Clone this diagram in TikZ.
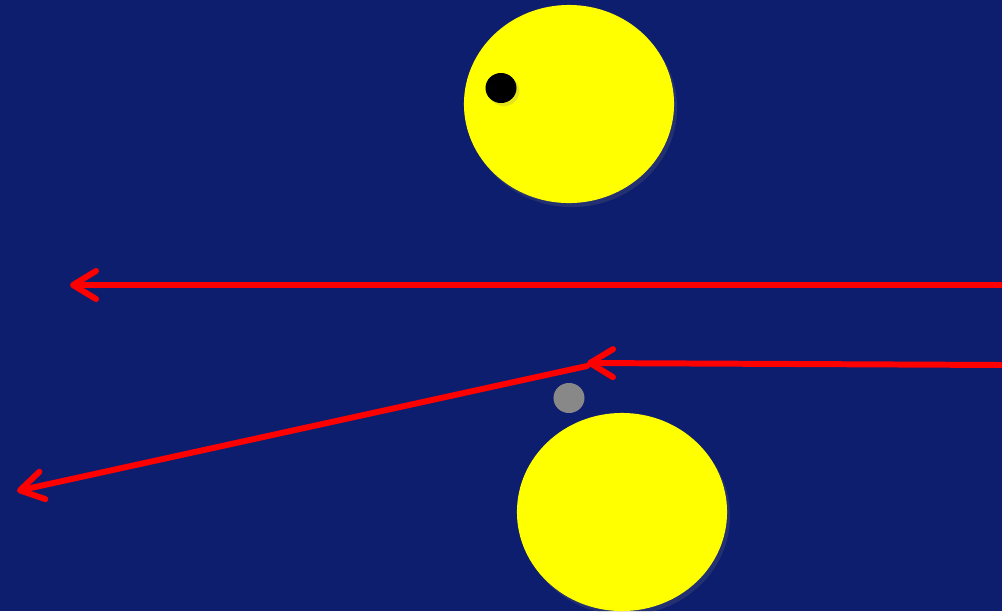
\documentclass[tikz,border=0pt]{standalone}
\usepackage{xcolor}
\usetikzlibrary{positioning, arrows.meta, shapes.geometric, shadows}
\definecolor{nightblue}{RGB}{14,30,110}
\definecolor{sunyellow}{RGB}{255,255,0}
\definecolor{rayred}{RGB}{255,0,0}
\definecolor{moongray}{RGB}{136,136,136}
\begin{document}
\begin{tikzpicture}[
  x=0.01cm, y=-0.01cm,
  body/.style={ellipse, fill=sunyellow, inner sep=0pt, minimum width=2.1cm, minimum height=1.98cm,
    drop shadow={opacity=0.2, shadow xshift=0.3mm, shadow yshift=-0.4mm}},
  spot/.style={ellipse, inner sep=0pt, minimum width=0.31cm, minimum height=0.3cm},
  ray/.style={draw=rayred, line width=1.7pt, line cap=round,
    -{Straight Barb[length=2.3mm, width=2.8mm, round]}}
]

% sky
\fill[nightblue] (0,0) rectangle (1002,611);
\clip (0,0) rectangle (1002,611);

% bodies
\node[body] (upper) at (569,104) {};
\node[body] (lower) at (622,512) {};
\node[spot, fill=black, drop shadow={opacity=0.2, shadow xshift=0.3mm, shadow yshift=-0.3mm}] (dark) at (501,88) {};
\node[spot, fill=moongray] (pale) at (569,398) {};

% ray end points
\coordinate (inA) at (1002,285);
\coordinate (outA) at (70,285);
\coordinate (inB) at (1002,365);
\coordinate (bend) at (587,363);
\coordinate (outB) at (17,491);

% rays
\draw[ray] (inA) -- (outA);
\draw[ray] (inB) -- (bend);
\draw[ray] ([yshift=-0.03cm]bend) -- (outB);

\end{tikzpicture}
\end{document}
